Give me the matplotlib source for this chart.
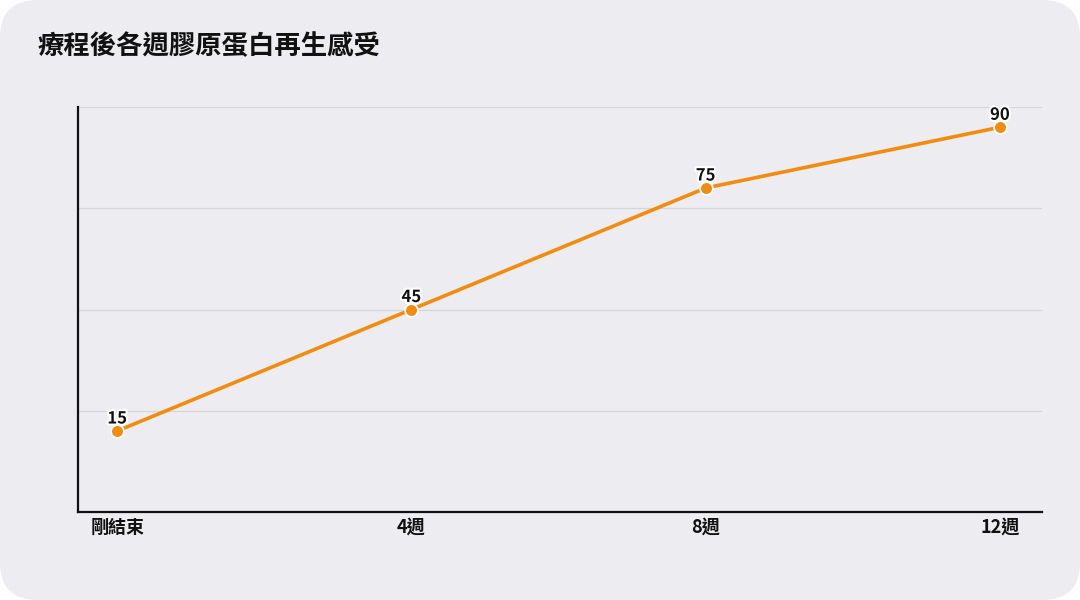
import matplotlib
matplotlib.use("Agg")
import matplotlib.pyplot as plt
from matplotlib.patches import FancyBboxPatch
import matplotlib.patheffects as pe

plt.rcParams['font.family'] = ['Noto Sans CJK TC', 'DejaVu Sans']

categories = ['剛結束', '4週', '8週', '12週']
values = [15, 45, 75, 90]
title = '療程後各週膠原蛋白再生感受'

orange = '#F28C0F'
bg = '#EDECF1'

fig = plt.figure(figsize=(10.8, 6.0), dpi=100)
fig.patch.set_facecolor('white')
fig.patches.append(FancyBboxPatch((0.0, 0.0), 1.0, 1.0, boxstyle='round,pad=0,rounding_size=0.035',
                                  transform=fig.transFigure, facecolor=bg, edgecolor='none',
                                  mutation_aspect=1.8, zorder=-10))

ax = fig.add_axes([78/1080, 1-512/600, (1042-78)/1080, (512-107)/600])
ax.set_facecolor('none')
x = list(range(len(categories)))
ax.plot(x, values, color=orange, lw=2.6, zorder=3, solid_capstyle='round')
ax.scatter(x, values, s=85, color=orange, edgecolor='white', linewidth=1.3, zorder=4)
for xi, v in zip(x, values):
    ax.annotate(str(v), (xi, v), xytext=(0, 2.5), textcoords='offset points', ha='center', va='bottom',
                fontsize=12, fontweight='bold', color='#111111', zorder=5,
                path_effects=[pe.withStroke(linewidth=3, foreground='white')])

ax.set_xlim(-0.133, 3.143)
ax.set_ylim(-5, 95)
ax.set_yticks([20, 45, 70, 95])
ax.set_yticklabels([])
ax.tick_params(axis='y', length=0)
ax.grid(axis='y', color='#D6D5DA', lw=0.9)
ax.set_xticks(x)
ax.set_xticklabels(categories, fontsize=13, fontweight='bold', color='#111111')
ax.tick_params(axis='x', length=0, pad=4)
for s in ['top', 'right']:
    ax.spines[s].set_visible(False)
for s in ['left', 'bottom']:
    ax.spines[s].set_color('#111111')
    ax.spines[s].set_linewidth(1.6)

fig.text(38/1080, 1-47/600, title, fontsize=19, fontweight='bold', color='#111111', va='center', ha='left')

fig.savefig('out.png', dpi=100, facecolor=fig.get_facecolor())
